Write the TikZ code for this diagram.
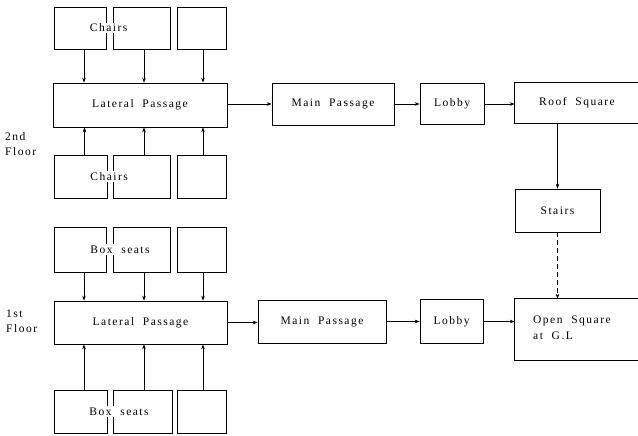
\documentclass[tikz,border=0pt]{standalone}
\usepackage{fontspec}
\setmainfont{Liberation Serif}[LetterSpace=13, WordSpace=2]
\usetikzlibrary{arrows.meta}
\begin{document}
\begin{tikzpicture}[x=1pt,y=-1pt,
  box/.style={draw, line width=0.7pt, inner sep=0pt},
  openbox/.style={inner sep=0pt},
  arr/.style={-{Stealth[length=5pt,width=3.5pt]}, line width=0.5pt},
  dasharr/.style={arr, dash pattern=on 5pt off 3pt},
  lbl/.style={font=\fontsize{11.5}{15}\selectfont},
  seatlbl/.style={lbl, fill=white, inner sep=1.2pt, anchor=west}]
\useasboundingbox (0,0) rectangle (638,436);

% ---------- 2nd floor ----------
\node[box, minimum width=52, minimum height=42] (c1) at (80,28) {};
\node[box, minimum width=57, minimum height=42] (c2) at (141.5,28) {};
\node[box, minimum width=49, minimum height=42] (c3) at (201.5,28) {};
\node[seatlbl] (tchairs) at (88.5,28) {Chairs};

\node[box, minimum width=174, minimum height=44, lbl] (lp2) at (140,105) {Lateral Passage};

\node[box, minimum width=53, minimum height=43] (d1) at (80.5,176.5) {};
\node[box, minimum width=57, minimum height=43] (d2) at (141.5,176.5) {};
\node[box, minimum width=49, minimum height=43] (d3) at (201.5,176.5) {};
\node[seatlbl] (bchairs) at (89,176.5) {Chairs};

\node[lbl, anchor=west, align=left, inner sep=0pt] (fl2) at (5,144.5) {2nd\\Floor};

\node[box, minimum width=122, minimum height=42, lbl] (mp2) at (333,104) {Main Passage};
\node[box, minimum width=64, minimum height=41, lbl] (lb2) at (452,104) {Lobby};
\node[openbox, minimum width=124, minimum height=40] (rs) at (577,103) {};
\draw[line width=0.7pt] (rs.north east) -- (rs.north west) -- (rs.south west) -- (rs.south east);
\node[lbl] (rst) at (577,103) {Roof Square};

\node[box, minimum width=85, minimum height=43, lbl] (st) at (557.5,210.5) {Stairs};

% ---------- 1st floor ----------
\node[box, minimum width=52, minimum height=45] (e1) at (80,249.5) {};
\node[box, minimum width=57, minimum height=45] (e2) at (141.5,249.5) {};
\node[box, minimum width=49, minimum height=45] (e3) at (201.5,249.5) {};
\node[seatlbl] (tbox) at (89,249.5) {Box seats};

\node[box, minimum width=173, minimum height=43, lbl] (lp1) at (140.5,322.5) {Lateral Passage};

\node[box, minimum width=53, minimum height=43] (f1) at (80.5,411.5) {};
\node[box, minimum width=59, minimum height=43] (f2) at (142.5,411.5) {};
\node[box, minimum width=49, minimum height=43] (f3) at (201.5,411.5) {};
\node[seatlbl] (bbox) at (88,411.5) {Box seats};

\node[lbl, anchor=west, align=left, inner sep=0pt] (fl1) at (6,321.5) {1st\\Floor};

\node[box, minimum width=128, minimum height=43, lbl] (mp1) at (322,321.5) {Main Passage};
\node[box, minimum width=63, minimum height=44, lbl] (lb1) at (451.5,321.5) {Lobby};
\node[openbox, minimum width=124, minimum height=61] (os) at (577,329.5) {};
\draw[line width=0.7pt] (os.north east) -- (os.north west) -- (os.south west) -- (os.south east);
\node[lbl, anchor=west, align=left, inner sep=0pt, font=\fontsize{11.5}{16}\selectfont] (ost) at (533,328) {Open Square\\at G.L};

% ---------- connectors ----------
\foreach \n/\dx in {1/4, 2/2.5, 3/1.5} {
  \draw[arr] ([xshift=\dx pt]c\n.south) -- ([xshift=\dx pt]c\n.south |- lp2.north);
  \draw[arr] ([xshift=\dx pt]d\n.north) -- ([xshift=\dx pt]d\n.north |- lp2.south);
  \draw[arr] ([xshift=\dx pt]e\n.south) -- ([xshift=\dx pt]e\n.south |- lp1.north);
}
\draw[arr] ([xshift=3.5pt]f1.north) -- ([xshift=3.5pt]f1.north |- lp1.south);
\draw[arr] ([xshift=1.5pt]f2.north) -- ([xshift=1.5pt]f2.north |- lp1.south);
\draw[arr] ([xshift=1.5pt]f3.north) -- ([xshift=1.5pt]f3.north |- lp1.south);

\draw[arr] (lp2.east |- mp2.west) -- (mp2.west);
\draw[arr] (mp2.east) -- (lb2.west);
\draw[arr] (lb2.east) -- (lb2.east -| rs.west);
\draw[arr] (st.north |- rs.south) -- (st.north);
\draw[dasharr] (st.south) -- (st.south |- os.north);

\draw[arr] (lp1.east) -- (lp1.east -| mp1.west);
\draw[arr] (mp1.east) -- (mp1.east -| lb1.west);
\draw[arr] (lb1.east) -- (lb1.east -| os.west);
\end{tikzpicture}
\end{document}
